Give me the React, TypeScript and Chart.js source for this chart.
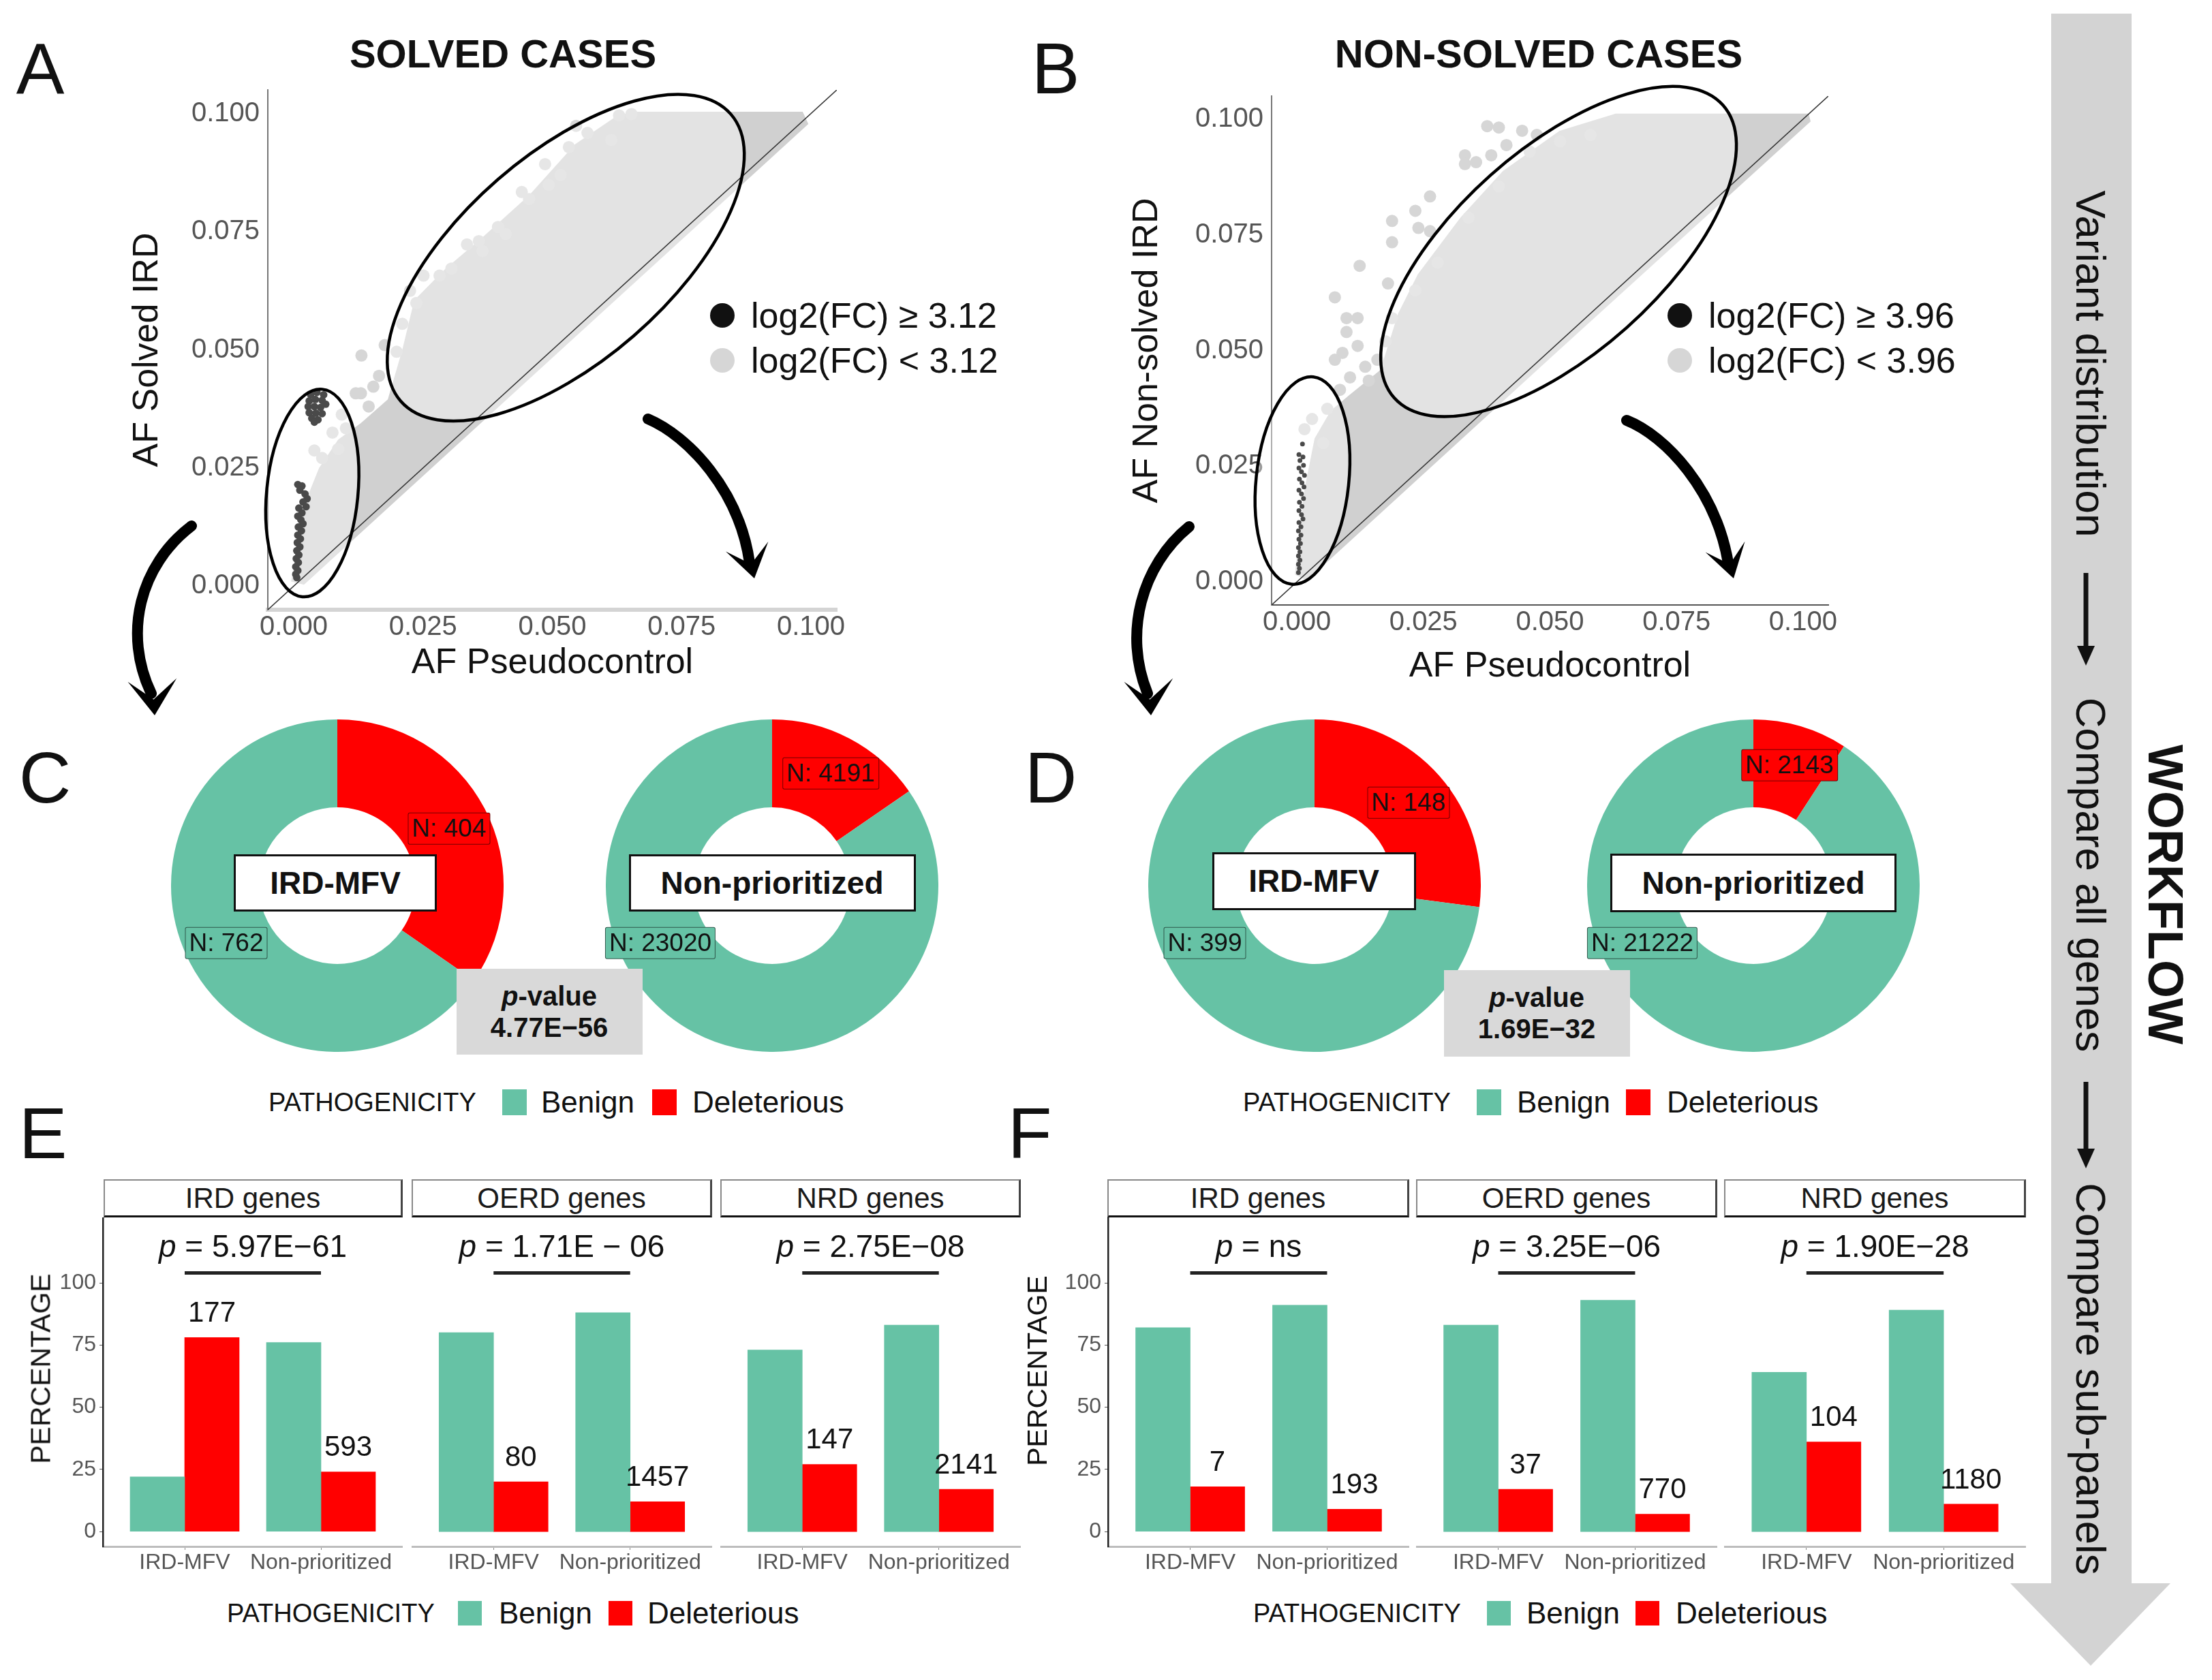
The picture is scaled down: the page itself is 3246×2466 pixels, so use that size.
import React, { useEffect, useRef } from "react";
import { Chart, registerables } from "chart.js";

Chart.register(...registerables);

const FONT = "'Liberation Sans', Arial, Helvetica, sans-serif";
Chart.defaults.font.family = FONT;
Chart.defaults.color = "#111";

// ---------------- DATA ----------------
type Pt = { x: number; y: number };

const afTicks = [0, 0.025, 0.05, 0.075, 0.1];
const afRange = [-0.005, 0.105];

// Panel A (solved) – outline of the dense grey cloud (upper envelope, then back along the diagonal)
const solvedCloud: Pt[] = [
  { x: -0.0005, y: 0.001 }, { x: 0.0012, y: 0.012 }, { x: 0.0026, y: 0.0187 }, { x: 0.0049, y: 0.025 },
  { x: 0.0086, y: 0.031 }, { x: 0.013, y: 0.0345 }, { x: 0.0182, y: 0.0395 }, { x: 0.021, y: 0.05 },
  { x: 0.0233, y: 0.0605 }, { x: 0.0292, y: 0.067 }, { x: 0.0367, y: 0.074 }, { x: 0.0456, y: 0.0828 },
  { x: 0.0544, y: 0.0935 }, { x: 0.0626, y: 0.0996 }, { x: 0.066, y: 0.1004 }, { x: 0.0984, y: 0.1004 },
  { x: 0.0995, y: 0.0978 }, { x: 0.05, y: 0.0483 }, { x: 0.01, y: 0.0083 }, { x: 0.002, y: 0.0003 },
];
const solvedFringe: Pt[] = [
  { x: 0.0131, y: 0.0488 }, { x: 0.0176, y: 0.051 }, { x: 0.012, y: 0.0408 }, { x: 0.0154, y: 0.0422 },
  { x: 0.0093, y: 0.0363 }, { x: 0.0101, y: 0.0334 }, { x: 0.004, y: 0.0287 }, { x: 0.0055, y: 0.0271 },
  { x: 0.0086, y: 0.029 }, { x: 0.0199, y: 0.0496 }, { x: 0.0237, y: 0.0599 }, { x: 0.0251, y: 0.0657 },
  { x: 0.0305, y: 0.0672 }, { x: 0.0358, y: 0.073 }, { x: 0.0365, y: 0.0709 }, { x: 0.0395, y: 0.076 },
  { x: 0.041, y: 0.0745 }, { x: 0.0441, y: 0.0834 }, { x: 0.0455, y: 0.0819 }, { x: 0.0486, y: 0.0893 },
  { x: 0.0493, y: 0.0849 }, { x: 0.0516, y: 0.087 }, { x: 0.0532, y: 0.0929 }, { x: 0.0546, y: 0.0974 },
  { x: 0.0568, y: 0.0959 }, { x: 0.0614, y: 0.0944 }, { x: 0.0629, y: 0.0996 }, { x: 0.0653, y: 0.0999 },
  { x: 0.0335, y: 0.0723 }, { x: 0.0282, y: 0.0657 }, { x: 0.013, y: 0.0408 }, { x: 0.0165, y: 0.0445 },
  { x: 0.0145, y: 0.038 }, { x: 0.0075, y: 0.0325 }, { x: 0.021, y: 0.0555 }, { x: 0.0225, y: 0.0625 },
];
const solvedHigh: Pt[] = [
  { x: 0.0033, y: 0.0405 }, { x: 0.0045, y: 0.041 }, { x: 0.0058, y: 0.0405 }, { x: 0.003, y: 0.0392 },
  { x: 0.0042, y: 0.0395 }, { x: 0.0055, y: 0.0393 }, { x: 0.0028, y: 0.038 }, { x: 0.004, y: 0.038 },
  { x: 0.0052, y: 0.0378 }, { x: 0.0062, y: 0.0385 }, { x: 0.003, y: 0.0367 }, { x: 0.0043, y: 0.0366 },
  { x: 0.0055, y: 0.0365 }, { x: 0.0035, y: 0.0355 }, { x: 0.0047, y: 0.0352 }, { x: 0.004, y: 0.0347 },
  { x: 0.0008, y: 0.0215 }, { x: 0.0016, y: 0.0212 }, { x: 0.0012, y: 0.0203 }, { x: 0.0022, y: 0.0195 },
  { x: 0.0026, y: 0.0185 }, { x: 0.0018, y: 0.0178 }, { x: 0.0024, y: 0.0168 }, { x: 0.001, y: 0.0165 },
  { x: 0.0016, y: 0.0155 }, { x: 0.0008, y: 0.0148 }, { x: 0.0014, y: 0.014 }, { x: 0.0018, y: 0.0132 },
  { x: 0.0009, y: 0.0125 }, { x: 0.0015, y: 0.0117 }, { x: 0.0008, y: 0.0108 }, { x: 0.0013, y: 0.01 },
  { x: 0.0007, y: 0.0092 }, { x: 0.0012, y: 0.0083 }, { x: 0.0006, y: 0.0075 }, { x: 0.001, y: 0.0066 },
  { x: 0.0005, y: 0.0058 }, { x: 0.0009, y: 0.005 }, { x: 0.0004, y: 0.0041 }, { x: 0.0008, y: 0.0033 },
  { x: 0.0004, y: 0.0025 }, { x: 0.0006, y: 0.0018 },
];

// Panel B (non-solved)
const nonSolvedCloud: Pt[] = [
  { x: -0.0004, y: 0.0016 }, { x: 0.0015, y: 0.02 }, { x: 0.0035, y: 0.031 }, { x: 0.0067, y: 0.037 },
  { x: 0.0105, y: 0.0405 }, { x: 0.0165, y: 0.0458 }, { x: 0.02, y: 0.058 }, { x: 0.0239, y: 0.0665 },
  { x: 0.0323, y: 0.0787 }, { x: 0.0407, y: 0.0888 }, { x: 0.0519, y: 0.0975 }, { x: 0.063, y: 0.1012 },
  { x: 0.1011, y: 0.1012 }, { x: 0.1015, y: 0.0995 }, { x: 0.05, y: 0.0483 }, { x: 0.01, y: 0.0083 },
  { x: 0.002, y: 0.0003 },
];
const nonSolvedFringe: Pt[] = [
  { x: 0.0075, y: 0.0615 }, { x: 0.0098, y: 0.057 }, { x: 0.012, y: 0.057 }, { x: 0.0124, y: 0.0683 },
  { x: 0.018, y: 0.0645 }, { x: 0.0188, y: 0.078 }, { x: 0.0188, y: 0.0734 }, { x: 0.0234, y: 0.0802 },
  { x: 0.024, y: 0.0765 }, { x: 0.0263, y: 0.0833 }, { x: 0.0263, y: 0.0758 }, { x: 0.0332, y: 0.0922 },
  { x: 0.0332, y: 0.0903 }, { x: 0.0354, y: 0.0907 }, { x: 0.0376, y: 0.0985 }, { x: 0.0399, y: 0.0982 },
  { x: 0.0414, y: 0.0944 }, { x: 0.0445, y: 0.0975 }, { x: 0.0474, y: 0.0966 }, { x: 0.0384, y: 0.0922 },
  { x: 0.009, y: 0.0495 }, { x: 0.012, y: 0.051 }, { x: 0.0075, y: 0.048 }, { x: 0.0105, y: 0.0442 },
  { x: 0.0142, y: 0.0435 }, { x: 0.0159, y: 0.048 }, { x: 0.0098, y: 0.054 }, { x: 0.003, y: 0.0352 },
  { x: 0.006, y: 0.0374 }, { x: 0.0052, y: 0.03 }, { x: 0.0015, y: 0.033 }, { x: 0.0339, y: 0.0787 },
  { x: 0.0399, y: 0.0855 }, { x: 0.046, y: 0.093 }, { x: 0.052, y: 0.0952 }, { x: 0.058, y: 0.0966 },
  { x: 0.0278, y: 0.069 }, { x: 0.0234, y: 0.063 }, { x: 0.0188, y: 0.057 }, { x: 0.0135, y: 0.0465 },
  { x: 0.0085, y: 0.0415 }, { x: 0.0175, y: 0.052 },
];
const nonSolvedHigh: Pt[] = [
  { x: 0.0011, y: 0.0298 }, { x: 0.0004, y: 0.0275 }, { x: 0.0012, y: 0.027 }, { x: 0.0006, y: 0.0262 },
  { x: 0.0013, y: 0.0252 }, { x: 0.0004, y: 0.0246 }, { x: 0.0009, y: 0.0238 }, { x: 0.0015, y: 0.023 },
  { x: 0.0005, y: 0.0222 }, { x: 0.001, y: 0.0214 }, { x: 0.0014, y: 0.0205 }, { x: 0.0004, y: 0.0198 },
  { x: 0.0009, y: 0.019 }, { x: 0.0013, y: 0.018 }, { x: 0.0005, y: 0.0172 }, { x: 0.001, y: 0.0163 },
  { x: 0.0004, y: 0.0154 }, { x: 0.0009, y: 0.0145 }, { x: 0.0012, y: 0.0136 }, { x: 0.0004, y: 0.0128 },
  { x: 0.0008, y: 0.0119 }, { x: 0.0003, y: 0.011 }, { x: 0.0008, y: 0.0101 }, { x: 0.0004, y: 0.0092 },
  { x: 0.0007, y: 0.0083 }, { x: 0.0003, y: 0.0074 }, { x: 0.0006, y: 0.0065 }, { x: 0.0003, y: 0.0056 },
  { x: 0.0006, y: 0.0047 }, { x: 0.0003, y: 0.0038 }, { x: 0.0005, y: 0.0029 }, { x: 0.0003, y: 0.002 },
];

// Doughnuts: [Deleterious, Benign]
const pieCategories = ["Deleterious", "Benign"];
const solvedIrdMfv = [404, 762];
const solvedNonPrior = [4191, 23020];
const nonSolvedIrdMfv = [148, 399];
const nonSolvedNonPrior = [2143, 21222];
const solvedPieP = "4.77E\u221256";
const nonSolvedPieP = "1.69E\u221232";

// Bars
const barGroups = ["IRD-MFV", "Non-prioritized"];
const facets = ["IRD genes", "OERD genes", "NRD genes"];
const percentTicks = [0, 25, 50, 75, 100];
const solvedBenignPct = [[22, 76], [80, 88], [73, 83]];
const solvedDelPct = [[78, 24], [20, 12], [27, 17]];
const solvedDelCount = [[177, 593], [80, 1457], [147, 2141]];
const solvedP = ["5.97E\u221261", "1.71E \u2212 06", "2.75E\u221208"];
const nonSolvedBenignPct = [[82, 91], [83, 93], [64, 89]];
const nonSolvedDelPct = [[18, 9], [17, 7], [36, 11]];
const nonSolvedDelCount = [[7, 193], [37, 770], [104, 1180]];
const nonSolvedP = ["ns", "3.25E\u221206", "1.90E\u221228"];

// ---------------- STYLE ----------------
const TEAL = "#66c2a5";
const RED = "#ff0000";

type Ell = { cx: number; cy: number; a: number; b: number; angle: number };
const solvedEllipses: Ell[] = [
  { cx: 0.0526, cy: 0.0695, a: 321, b: 152, angle: -41 },
  { cx: 0.0036, cy: 0.0197, a: 153, b: 67, angle: -84.5 },
];
const nonSolvedEllipses: Ell[] = [
  { cx: 0.0517, cy: 0.0714, a: 323, b: 150, angle: -41.7 },
  { cx: 0.0011, cy: 0.0219, a: 153, b: 68, angle: -84 },
];

function T(props: { x: number; y: number; a?: string; size: number; bold?: boolean; italic?: boolean; color?: string; rotate?: number; children: any }) {
  const { x, y, a = "c", size, bold, italic, color = "#111", rotate, children } = props;
  const tx = a === "c" ? "-50%" : a === "r" ? "-100%" : "0";
  return (
    <div
      style={{
        position: "absolute", left: x, top: y, transform: `translate(${tx},-50%)${rotate ? ` rotate(${rotate}deg)` : ""}`,
        fontSize: size, fontWeight: bold ? 700 : 400, fontStyle: italic ? "italic" : "normal",
        lineHeight: 1, whiteSpace: "nowrap", color, fontFamily: FONT,
      }}
    >
      {children}
    </div>
  );
}

function ScatterPanel(p: {
  left: number; top: number; width: number; height: number;
  area: { l: number; t: number; r: number; b: number };
  cloud: Pt[]; fringe: Pt[]; high: Pt[]; highRadius: number; ellipses: Ell[];
  yTitle: string; yTitlePad: number; xTitlePad: number; xBorder: { color: string; width: number };
}) {
  const ref = useRef<HTMLCanvasElement>(null);
  useEffect(() => {
    const yW = p.area.l - p.left;
    const xH = p.top + p.height - p.area.b;
    const FRINGE_INDEX = 1;
    const ellPlugin = {
      id: "ellipses",
      afterDatasetDraw(chart: any, args: any) {
        if (args.index !== FRINGE_INDEX) return;
        const { ctx, scales } = chart;
        ctx.save();
        p.ellipses.forEach((e) => {
          ctx.beginPath();
          ctx.ellipse(scales.x.getPixelForValue(e.cx), scales.y.getPixelForValue(e.cy), e.a, e.b, (e.angle * Math.PI) / 180, 0, Math.PI * 2);
          ctx.fillStyle = "rgba(255,255,255,0.4)";
          ctx.fill();
        });
        ctx.restore();
      },
      afterDatasetsDraw(chart: any) {
        const { ctx, scales } = chart;
        ctx.save();
        p.ellipses.forEach((e) => {
          ctx.beginPath();
          ctx.ellipse(scales.x.getPixelForValue(e.cx), scales.y.getPixelForValue(e.cy), e.a, e.b, (e.angle * Math.PI) / 180, 0, Math.PI * 2);
          ctx.strokeStyle = "#000";
          ctx.lineWidth = 4.5;
          ctx.stroke();
        });
        ctx.restore();
      },
    };
    const chart = new Chart(ref.current as HTMLCanvasElement, {
      type: "scatter",
      data: {
        datasets: [
          { type: "line", data: p.cloud, fill: "shape", backgroundColor: "#d0d0d0", borderColor: "rgba(0,0,0,0)", borderWidth: 0, pointRadius: 0, tension: 0, order: 4 } as any,
          { type: "scatter", data: p.fringe, backgroundColor: "#d6d6d6", borderWidth: 0, pointRadius: 9, order: 3 } as any,
          { type: "line", data: afRange.map((v) => ({ x: v, y: v })), borderColor: "#333", borderWidth: 1.6, pointRadius: 0, fill: false, order: 2 } as any,
          { type: "scatter", data: p.high, backgroundColor: "#4a4a4a", borderWidth: 0, pointRadius: p.highRadius, order: 1 } as any,
        ],
      },
      options: {
        animation: false, responsive: false, events: [],
        layout: { padding: { top: p.area.t - p.top, right: p.left + p.width - p.area.r, left: 0, bottom: 0 } },
        plugins: { legend: { display: false }, tooltip: { enabled: false } },
        scales: {
          x: {
            type: "linear", min: afRange[0], max: afRange[1],
            afterBuildTicks: (s: any) => { s.ticks = afTicks.map((v) => ({ value: v })); },
            afterFit: (s: any) => { s.height = xH; s.paddingLeft = 0; s.paddingRight = 0; },
            grid: { display: false, drawTicks: false },
            border: { display: true, color: p.xBorder.color, width: p.xBorder.width },
            ticks: { color: "#555", font: { size: 40 }, padding: 2, maxRotation: 0, autoSkip: false, callback: (v: any) => Number(v).toFixed(3) },
            title: { display: true, text: "AF Pseudocontrol", color: "#111", font: { size: 52 }, padding: { top: 0, bottom: p.xTitlePad } },
          },
          y: {
            type: "linear", min: afRange[0], max: afRange[1],
            afterBuildTicks: (s: any) => { s.ticks = afTicks.map((v) => ({ value: v })); },
            afterFit: (s: any) => { s.width = yW; s.paddingTop = 0; s.paddingBottom = 0; },
            grid: { display: false, drawTicks: false },
            border: { display: true, color: "#777", width: 2 },
            ticks: { color: "#555", font: { size: 40 }, padding: 12, autoSkip: false, callback: (v: any) => Number(v).toFixed(3) },
            title: { display: true, text: p.yTitle, color: "#111", font: { size: 52 }, padding: { top: p.yTitlePad, bottom: 0 } },
          },
        },
      } as any,
      plugins: [ellPlugin],
    });
    return () => chart.destroy();
  }, []);
  return <canvas ref={ref} width={p.width} height={p.height} style={{ position: "absolute", left: p.left, top: p.top, width: p.width, height: p.height }} />;
}

function Donut(p: { cx: number; cy: number; r: number; values: number[] }) {
  const ref = useRef<HTMLCanvasElement>(null);
  useEffect(() => {
    const chart = new Chart(ref.current as HTMLCanvasElement, {
      type: "doughnut",
      data: { labels: pieCategories, datasets: [{ data: p.values, backgroundColor: [RED, TEAL], borderWidth: 0 }] },
      options: {
        animation: false, responsive: false, events: [], cutout: 115,
        layout: { padding: 0 },
        plugins: { legend: { display: false }, tooltip: { enabled: false } },
      } as any,
    });
    return () => chart.destroy();
  }, []);
  const s = p.r * 2;
  return <canvas ref={ref} width={s} height={s} style={{ position: "absolute", left: p.cx - p.r, top: p.cy - p.r, width: s, height: s }} />;
}

const BRACKET_LEVEL = 104;
const P_LEVEL = 114;

function BarFacet(p: {
  left: number; width: number; top: number; height: number; areaLeft: number; areaBottom: number;
  showY: boolean; benign: number[]; del: number[]; counts: number[]; pText: string;
}) {
  const ref = useRef<HTMLCanvasElement>(null);
  useEffect(() => {
    const yW = p.showY ? p.areaLeft - p.left : 0;
    const xH = p.top + p.height - p.areaBottom;
    const annot = {
      id: "barAnnot",
      afterDatasetsDraw(chart: any) {
        const { ctx, scales } = chart;
        const x = scales.x, y = scales.y;
        const meta = chart.getDatasetMeta(1);
        ctx.save();
        ctx.fillStyle = "#111";
        ctx.font = `42px ${FONT}`;
        ctx.textAlign = "center";
        ctx.textBaseline = "middle";
        meta.data.forEach((bar: any, i: number) => ctx.fillText(String(p.counts[i]), bar.x, bar.y - 35));
        const yb = y.getPixelForValue(BRACKET_LEVEL);
        ctx.strokeStyle = "#222";
        ctx.lineWidth = 5;
        ctx.beginPath();
        ctx.moveTo(x.getPixelForValue(1), yb);
        ctx.lineTo(x.getPixelForValue(2), yb);
        ctx.stroke();
        const yp = y.getPixelForValue(P_LEVEL);
        const cx = x.getPixelForValue(1.5);
        ctx.font = `italic 46px ${FONT}`;
        const w1 = ctx.measureText("p").width;
        const rest = " = " + p.pText;
        ctx.font = `46px ${FONT}`;
        const w2 = ctx.measureText(rest).width;
        const sx = cx - (w1 + w2) / 2;
        ctx.textAlign = "left";
        ctx.font = `italic 46px ${FONT}`;
        ctx.fillText("p", sx, yp);
        ctx.font = `46px ${FONT}`;
        ctx.fillText(rest, sx + w1, yp);
        ctx.restore();
      },
    };
    const chart = new Chart(ref.current as HTMLCanvasElement, {
      type: "bar",
      data: {
        datasets: [
          { label: "Benign", data: p.benign.map((v, i) => ({ x: i + 1, y: v })), backgroundColor: TEAL, barThickness: 80, borderWidth: 0 },
          { label: "Deleterious", data: p.del.map((v, i) => ({ x: i + 1, y: v })), backgroundColor: RED, barThickness: 80, borderWidth: 0 },
        ],
      },
      options: {
        animation: false, responsive: false, events: [],
        layout: { padding: 0 },
        plugins: { legend: { display: false }, tooltip: { enabled: false } },
        scales: {
          x: {
            type: "linear", min: 0.4, max: 2.6, offset: false,
            afterBuildTicks: (s: any) => { s.ticks = [{ value: 1 }, { value: 2 }]; },
            afterFit: (s: any) => { s.height = xH; s.paddingLeft = 0; s.paddingRight = 0; },
            grid: { display: true, drawOnChartArea: false, drawTicks: true, tickLength: 5, color: "#888", offset: false },
            border: { display: true, color: "#bdbdbd", width: 3 },
            ticks: { color: "#555", font: { size: 32 }, padding: 0, maxRotation: 0, autoSkip: false, callback: (v: any) => barGroups[Number(v) - 1] ?? "" },
          },
          y: {
            display: p.showY, type: "linear", min: -6, max: 126.3,
            afterBuildTicks: (s: any) => { s.ticks = percentTicks.map((v) => ({ value: v })); },
            afterFit: (s: any) => { s.width = yW; s.paddingTop = 0; s.paddingBottom = 0; },
            grid: { display: true, drawOnChartArea: false, drawTicks: true, tickLength: 5, color: "#555" },
            border: { display: true, color: "#222", width: 2.5 },
            ticks: { color: "#555", font: { size: 32 }, padding: 5, autoSkip: false },
          },
        },
      } as any,
      plugins: [annot],
    });
    return () => chart.destroy();
  }, []);
  return <canvas ref={ref} width={p.width} height={p.height} style={{ position: "absolute", left: p.left, top: p.top, width: p.width, height: p.height }} />;
}

function CenterBox(p: { cx: number; cy: number; w?: number; h?: number; bg: string; border: string; size: number; bold?: boolean; children: any; pad?: string; radius?: number }) {
  const auto = p.w === undefined;
  return (
    <div
      style={{
        position: "absolute", left: auto ? p.cx : p.cx - (p.w as number) / 2, top: auto ? p.cy : p.cy - (p.h as number) / 2,
        width: p.w, height: p.h, transform: auto ? "translate(-50%,-50%)" : undefined,
        background: p.bg, border: p.border, boxSizing: "border-box", display: "flex", flexDirection: "column",
        alignItems: "center", justifyContent: "center", fontSize: p.size, fontWeight: p.bold ? 700 : 400,
        fontFamily: FONT, color: "#111", whiteSpace: "nowrap", lineHeight: 1.15, padding: p.pad, borderRadius: p.radius,
      }}
    >
      {p.children}
    </div>
  );
}

function NLabel(p: { cx: number; cy: number; n: number; bg: string }) {
  return (
    <CenterBox cx={p.cx} cy={p.cy} bg={p.bg} border="1.5px solid rgba(0,0,0,0.55)" size={37} pad="1px 5px" radius={3}>
      {`N: ${p.n}`}
    </CenterBox>
  );
}

function Legend(p: { y: number; xTitle: number; sw1: number; xB: number; sw2: number; xD: number; swW: number; swH: number }) {
  return (
    <>
      <T x={p.xTitle} y={p.y} a="l" size={38}>PATHOGENICITY</T>
      <div style={{ position: "absolute", left: p.sw1, top: p.y - p.swH / 2, width: p.swW, height: p.swH, background: TEAL }} />
      <T x={p.xB} y={p.y} a="l" size={44}>Benign</T>
      <div style={{ position: "absolute", left: p.sw2, top: p.y - p.swH / 2, width: p.swW, height: p.swH, background: RED }} />
      <T x={p.xD} y={p.y} a="l" size={44}>Deleterious</T>
    </>
  );
}

function Strip(p: { l: number; r: number; text: string }) {
  return (
    <div
      style={{
        position: "absolute", left: p.l, top: 1731, width: p.r - p.l, height: 56, boxSizing: "border-box",
        border: "2px solid #888", borderBottom: "3px solid #111", borderRight: "3px solid #444",
        display: "flex", alignItems: "center", justifyContent: "center", fontSize: 42, fontFamily: FONT, color: "#1a1a1a", background: "#fff",
      }}
    >
      {p.text}
    </div>
  );
}

function dart(tx: number, ty: number, ang: number, len: number, hw: number) {
  const r = (ang * Math.PI) / 180;
  const dx = Math.cos(r), dy = Math.sin(r);
  const px = -dy, py = dx;
  const bx = tx - len * dx, by = ty - len * dy;
  const nx = tx - len * 0.45 * dx, ny = ty - len * 0.45 * dy;
  return `${tx},${ty} ${bx + hw * px},${by + hw * py} ${nx},${ny} ${bx - hw * px},${by - hw * py}`;
}

function ScatterLegend(p: { x: number; thr: string }) {
  return (
    <>
      <div style={{ position: "absolute", left: p.x - 18, top: 463 - 18, width: 36, height: 36, borderRadius: "50%", background: "#111" }} />
      <T x={p.x + 42} y={463} a="l" size={52}>{`log2(FC) \u2265 ${p.thr}`}</T>
      <div style={{ position: "absolute", left: p.x - 18, top: 529 - 18, width: 36, height: 36, borderRadius: "50%", background: "#d6d6d6" }} />
      <T x={p.x + 42} y={529} a="l" size={52}>{`log2(FC) < ${p.thr}`}</T>
    </>
  );
}

export default function App() {
  const eFacetBoxes = [[152, 591], [604, 1045], [1057, 1498]];
  const fFacetBoxes = [[1625, 2068], [2078, 2520], [2530, 2973]];
  const eCanvas = [{ left: 20, width: 571, areaLeft: 151 }, { left: 604, width: 441, areaLeft: 604 }, { left: 1057, width: 441, areaLeft: 1057 }];
  const fCanvas = [{ left: 1480, width: 588, areaLeft: 1626 }, { left: 2078, width: 442, areaLeft: 2078 }, { left: 2530, width: 443, areaLeft: 2530 }];
  return (
    <div style={{ position: "absolute", left: 0, top: 0, width: 3246, height: 2466, background: "#fff", overflow: "hidden", fontFamily: FONT }}>
      {/* panel letters & titles */}
      <T x={59} y={100} size={106}>A</T>
      <T x={1549} y={100} size={106}>B</T>
      <T x={66} y={1141} size={106}>C</T>
      <T x={1542} y={1141} size={106}>D</T>
      <T x={63} y={1663} size={106}>E</T>
      <T x={1511} y={1663} size={106}>F</T>
      <T x={738} y={79} size={58} bold>SOLVED CASES</T>
      <T x={2258} y={79} size={58} bold>NON-SOLVED CASES</T>

      {/* scatter panels */}
      <ScatterPanel left={150} top={110} width={1100} height={900} area={{ l: 393, t: 132, r: 1228, b: 895 }}
        cloud={solvedCloud} fringe={solvedFringe} high={solvedHigh} highRadius={5.5} ellipses={solvedEllipses}
        yTitle="AF Solved IRD" yTitlePad={35} xTitlePad={5} xBorder={{ color: "#d4d4d4", width: 6 }} />
      <ScatterPanel left={1620} top={110} width={1090} height={900} area={{ l: 1866, t: 141, r: 2683, b: 888 }}
        cloud={nonSolvedCloud} fringe={nonSolvedFringe} high={nonSolvedHigh} highRadius={3.5} ellipses={nonSolvedEllipses}
        yTitle="AF Non-solved IRD" yTitlePad={32} xTitlePad={0} xBorder={{ color: "#555", width: 2 }} />
      <ScatterLegend x={1060} thr="3.12" />
      <ScatterLegend x={2465} thr="3.96" />

      {/* doughnuts C */}
      <Donut cx={495} cy={1300} r={244} values={solvedIrdMfv} />
      <Donut cx={1133} cy={1300} r={244} values={solvedNonPrior} />
      <CenterBox cx={492} cy={1296} w={298} h={84} bg="#fff" border="3px solid #111" size={46} bold>IRD-MFV</CenterBox>
      <CenterBox cx={1133} cy={1296} w={421} h={84} bg="#fff" border="3px solid #111" size={46} bold>Non-prioritized</CenterBox>
      <NLabel cx={659} cy={1216} n={solvedIrdMfv[0]} bg={RED} />
      <NLabel cx={332} cy={1384} n={solvedIrdMfv[1]} bg={TEAL} />
      <NLabel cx={1219} cy={1135} n={solvedNonPrior[0]} bg={RED} />
      <NLabel cx={969} cy={1384} n={solvedNonPrior[1]} bg={TEAL} />
      <CenterBox cx={806} cy={1485} w={273} h={126} bg="#d9d9d9" border="none" size={40} bold>
        <div><i>p</i>-value</div>
        <div>{solvedPieP}</div>
      </CenterBox>
      <Legend y={1618} xTitle={394} sw1={737} xB={794} sw2={957} xD={1016} swW={36} swH={38} />

      {/* doughnuts D */}
      <Donut cx={1929} cy={1300} r={244} values={nonSolvedIrdMfv} />
      <Donut cx={2573} cy={1300} r={244} values={nonSolvedNonPrior} />
      <CenterBox cx={1928} cy={1293} w={299} h={85} bg="#fff" border="3px solid #111" size={46} bold>IRD-MFV</CenterBox>
      <CenterBox cx={2573} cy={1296} w={420} h={86} bg="#fff" border="3px solid #111" size={46} bold>Non-prioritized</CenterBox>
      <NLabel cx={2067} cy={1178} n={nonSolvedIrdMfv[0]} bg={RED} />
      <NLabel cx={1768} cy={1384} n={nonSolvedIrdMfv[1]} bg={TEAL} />
      <NLabel cx={2626} cy={1123} n={nonSolvedNonPrior[0]} bg={RED} />
      <NLabel cx={2410} cy={1384} n={nonSolvedNonPrior[1]} bg={TEAL} />
      <CenterBox cx={2255} cy={1487} w={273} h={127} bg="#d9d9d9" border="none" size={40} bold>
        <div><i>p</i>-value</div>
        <div>{nonSolvedPieP}</div>
      </CenterBox>
      <Legend y={1618} xTitle={1824} sw1={2167} xB={2226} sw2={2386} xD={2446} swW={36} swH={38} />

      {/* bars E */}
      {facets.map((f, i) => <Strip key={"es" + i} l={eFacetBoxes[i][0]} r={eFacetBoxes[i][1]} text={f} />)}
      {facets.map((f, i) => (
        <BarFacet key={"eb" + i} left={eCanvas[i].left} width={eCanvas[i].width} top={1787} height={533} areaLeft={eCanvas[i].areaLeft} areaBottom={2270}
          showY={i === 0} benign={solvedBenignPct[i]} del={solvedDelPct[i]} counts={solvedDelCount[i]} pText={solvedP[i]} />
      ))}
      <T x={60} y={2009} size={41} rotate={-90}>PERCENTAGE</T>
      <Legend y={2368} xTitle={333} sw1={672} xB={732} sw2={893} xD={950} swW={35} swH={36} />

      {/* bars F */}
      {facets.map((f, i) => <Strip key={"fs" + i} l={fFacetBoxes[i][0]} r={fFacetBoxes[i][1]} text={f} />)}
      {facets.map((f, i) => (
        <BarFacet key={"fb" + i} left={fCanvas[i].left} width={fCanvas[i].width} top={1787} height={533} areaLeft={fCanvas[i].areaLeft} areaBottom={2270}
          showY={i === 0} benign={nonSolvedBenignPct[i]} del={nonSolvedDelPct[i]} counts={nonSolvedDelCount[i]} pText={nonSolvedP[i]} />
      ))}
      <T x={1522} y={2012} size={41} rotate={-90}>PERCENTAGE</T>
      <Legend y={2368} xTitle={1839} sw1={2182} xB={2240} sw2={2400} xD={2459} swW={35} swH={36} />

      {/* arrows & workflow */}
      <svg width={3246} height={2466} style={{ position: "absolute", left: 0, top: 0, pointerEvents: "none" }}>
        <g fill="none" stroke="#000" strokeWidth={16} strokeLinecap="round">
          <path d="M 281 772 C 205 830, 180 930, 222 1018" />
          <path d="M 951 615 C 1010 640, 1085 720, 1100 826" />
          <path d="M 1745 773 C 1675 830, 1648 930, 1684 1018" />
          <path d="M 2387 617 C 2445 640, 2518 720, 2536 826" />
        </g>
        <g fill="#000">
          <polygon points={dart(227, 1050, 86, 52, 36)} />
          <polygon points={dart(1107, 849, 77, 48, 32)} />
          <polygon points={dart(1689, 1050, 86, 52, 36)} />
          <polygon points={dart(2544, 849, 75, 48, 30)} />
        </g>
        <rect x={3010} y={20} width={118} height={2304} fill="#d3d3d3" />
        <polygon points="2950,2324 3185,2324 3068,2445" fill="#d3d3d3" />
        <g fontFamily={FONT} fontSize={62} fill="#111" textAnchor="middle" dominantBaseline="central">
          <text x={3068} y={534} transform="rotate(90 3068 534)">Variant distribution</text>
          <text x={3068} y={1284} transform="rotate(90 3068 1284)">Compare all genes</text>
          <text x={3068} y={2024} transform="rotate(90 3068 2024)">Compare sub-panels</text>
        </g>
        <text x={3178} y={1313} transform="rotate(90 3178 1313)" fontFamily={FONT} fontSize={72} fontWeight={700} fill="#111" textAnchor="middle" dominantBaseline="central">WORKFLOW</text>
        <g stroke="#111" strokeWidth={7}>
          <line x1={3061} y1={841} x2={3061} y2={952} />
          <line x1={3061} y1={1588} x2={3061} y2={1690} />
        </g>
        <g fill="#111">
          <polygon points="3048,948 3074,948 3061,977" />
          <polygon points="3048,1686 3074,1686 3061,1715" />
        </g>
      </svg>
    </div>
  );
}
